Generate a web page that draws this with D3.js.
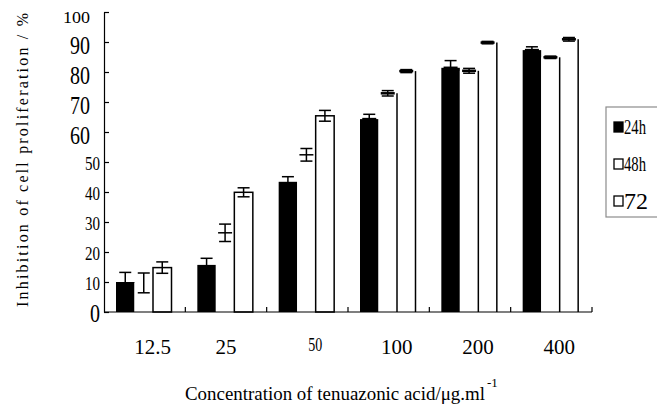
<!DOCTYPE html>
<html>
<head>
<meta charset="utf-8">
<script src="https://cdn.jsdelivr.net/npm/d3@7"></script>
<style>
  body { margin: 0; background: #fff; }
  svg { display: block; }
  text { font-family: "Liberation Serif", "Times New Roman", serif; fill: #000; }
</style>
</head>
<body>
<svg id="chart"></svg>
<script>
// values (% inhibition, mean and error)
const concentrations = ["12.5", "25", "50", "100", "200", "400"];
const series = ["24h", "48h", "72"];
const inhibition24 = [10.0, 15.7, 43.4, 64.3, 81.4, 87.3];
const err24 = [3.2, 2.2, 1.7, 1.6, 2.4, 1.1];
const inhibition48 = [9.7, 26.4, 52.4, 72.9, 80.4, 84.9];
const err48 = [3.3, 2.9, 2.1, 0.9, 0.8, 0.4];
const inhibition72 = [14.8, 39.9, 65.4, 80.3, 89.8, 90.9];
const err72 = [1.9, 1.5, 1.8, 0.5, 0.4, 0.6];
const yTickValues = [0, 10, 20, 30, 40, 50, 60, 70, 80, 90, 100];

const svgWidth = 657, svgHeight = 408;
const plot = {left: 104, right: 592, top: 12, bottom: 312};

const means = [inhibition24, inhibition48, inhibition72];
const errs = [err24, err48, err72];
const rows = concentrations.flatMap((c, i) =>
  series.map((s, j) => ({c: c, s: s, i: i, v: means[j][i], e: errs[j][i]})));

const chart = d3.select("#chart")
  .attr("width", svgWidth)
  .attr("height", svgHeight);

const x0 = d3.scaleBand().domain(concentrations).range([plot.left, plot.right]);
const x1 = d3.scaleBand().domain(series).range([12, 67.5]);
const y = d3.scaleLinear().domain([0, 100]).range([plot.bottom, plot.top]);

const barX = d => x0(d.c) + x1(d.s);
const barMid = d => barX(d) + x1.bandwidth() / 2;

// bars
chart.append("g").selectAll("rect")
  .data(rows)
  .join("rect")
  .attr("x", barX)
  .attr("y", d => y(d.v))
  .attr("width", x1.bandwidth())
  .attr("height", d => y(0) - y(d.v))
  .attr("fill", d => d.s === "24h" ? "#000" : "#fff")
  .attr("stroke", d => (d.s === "72" && d.i < 3) ? "#000" : "none")
  .attr("stroke-width", 1.5);

// the later open bars only show their right edge
chart.append("g").selectAll("line")
  .data(rows.filter(d => d.s !== "24h" && d.i >= 3))
  .join("line")
  .attr("x1", d => barX(d) + x1.bandwidth())
  .attr("x2", d => barX(d) + x1.bandwidth())
  .attr("y1", d => y(d.v))
  .attr("y2", y(0))
  .attr("stroke", "#000")
  .attr("stroke-width", 1.5);

// error bars
const eb = chart.append("g").attr("stroke", "#000").attr("stroke-width", 1.5);
eb.selectAll(".stem")
  .data(rows)
  .join("line")
  .attr("class", "stem")
  .attr("x1", barMid).attr("x2", barMid)
  .attr("y1", d => y(d.v + d.e))
  .attr("y2", d => y(d.v - d.e));
eb.selectAll(".capTop")
  .data(rows)
  .join("line")
  .attr("class", "capTop")
  .attr("x1", d => barMid(d) - 6).attr("x2", d => barMid(d) + 6)
  .attr("y1", d => y(d.v + d.e)).attr("y2", d => y(d.v + d.e));
eb.selectAll(".capBot")
  .data(rows.filter(d => d.s !== "24h"))
  .join("line")
  .attr("class", "capBot")
  .attr("x1", d => barMid(d) - 6).attr("x2", d => barMid(d) + 6)
  .attr("y1", d => y(d.v - d.e)).attr("y2", d => y(d.v - d.e));
eb.selectAll(".mean")
  .data(rows.filter(d => (d.s === "48h" && d.i > 0) || d.i >= 3))
  .join("line")
  .attr("class", "mean")
  .attr("x1", d => barMid(d) - 7).attr("x2", d => barMid(d) + 7)
  .attr("y1", d => y(d.v)).attr("y2", d => y(d.v))
  .attr("stroke-width", d => d.i >= 3 ? 2.5 : 1.5);

// y axis, ticks pointing inward
function tickStyle(v) {
  if (v === 100) return {size: 17, len: 27, pad: 14, dy: 5};
  if (v >= 60) return {size: 26, len: 20, pad: 14, dy: 3};
  if (v === 0) return {size: 25, len: 10, pad: 4, dy: 1};
  return {size: 19, len: 15, pad: 4, dy: 1};
}

const yAxis = d3.axisLeft(y)
  .tickValues(yTickValues)
  .tickSizeInner(-5)
  .tickSizeOuter(0)
  .tickPadding(0);

const yg = chart.append("g")
  .attr("transform", `translate(${plot.left},0)`)
  .call(yAxis);
yg.select(".domain").attr("stroke-width", 1.2);
yg.selectAll(".tick line").attr("stroke-width", 1.2);
yg.selectAll(".tick text")
  .attr("font-size", d => tickStyle(d).size)
  .attr("x", d => -tickStyle(d).pad)
  .attr("y", d => tickStyle(d).dy)
  .attr("textLength", d => tickStyle(d).len)
  .attr("lengthAdjust", "spacingAndGlyphs");

// x axis with ticks at group borders
chart.append("line")
  .attr("x1", plot.left).attr("x2", plot.right)
  .attr("y1", y(0)).attr("y2", y(0))
  .attr("stroke", "#000").attr("stroke-width", 1.2);
chart.append("g").selectAll("line")
  .data(concentrations)
  .join("line")
  .attr("x1", c => x0(c) + x0.bandwidth())
  .attr("x2", c => x0(c) + x0.bandwidth())
  .attr("y1", y(0)).attr("y2", y(0) - 5)
  .attr("stroke", "#000").attr("stroke-width", 1.2);

chart.append("g").selectAll("text")
  .data(concentrations)
  .join("text")
  .attr("x", (c, i) => x0(c) + x0.bandwidth() / 2 + (i === 1 ? 0 : 8))
  .attr("y", c => c === "50" ? 351 : 354)
  .attr("text-anchor", "middle")
  .attr("font-size", c => c === "50" ? 19 : 21)
  .attr("textLength", c => c === "50" ? 14 : null)
  .attr("lengthAdjust", "spacingAndGlyphs")
  .text(c => c);

// axis titles
chart.append("text")
  .attr("transform", "translate(28,160) rotate(-90)")
  .attr("text-anchor", "middle")
  .attr("font-size", 16)
  .attr("textLength", 294)
  .attr("lengthAdjust", "spacing")
  .text("Inhibition of cell proliferation / %");

const xt = chart.append("text")
  .attr("x", 185)
  .attr("y", 400)
  .attr("font-size", 18);
xt.append("tspan")
  .attr("textLength", 300)
  .attr("lengthAdjust", "spacingAndGlyphs")
  .text("Concentration of tenuazonic acid/\u03bcg.ml");
xt.append("tspan")
  .attr("dy", -13)
  .attr("dx", 2)
  .attr("font-size", 13)
  .text("-1");

// legend
const ly = d3.scalePoint().domain(series).range([127, 201]);
chart.append("rect")
  .attr("x", 606).attr("y", 107)
  .attr("width", 60).attr("height", 110)
  .attr("fill", "none")
  .attr("stroke", "#8c8c8c")
  .attr("stroke-width", 1.2);
const li = chart.append("g").selectAll("g")
  .data(series)
  .join("g")
  .attr("transform", s => `translate(0,${ly(s)})`);
li.append("rect")
  .attr("x", 614).attr("y", -5)
  .attr("width", 9).attr("height", 10)
  .attr("fill", s => s === "24h" ? "#000" : "#fff")
  .attr("stroke", "#000")
  .attr("stroke-width", 1.3);
li.append("text")
  .attr("x", 624)
  .attr("y", s => s === "72" ? 8 : 7)
  .attr("font-size", s => s === "72" ? 24 : 20)
  .attr("textLength", s => s === "72" ? 24 : 22)
  .attr("lengthAdjust", "spacingAndGlyphs")
  .text(s => s);
</script>
</body>
</html>
